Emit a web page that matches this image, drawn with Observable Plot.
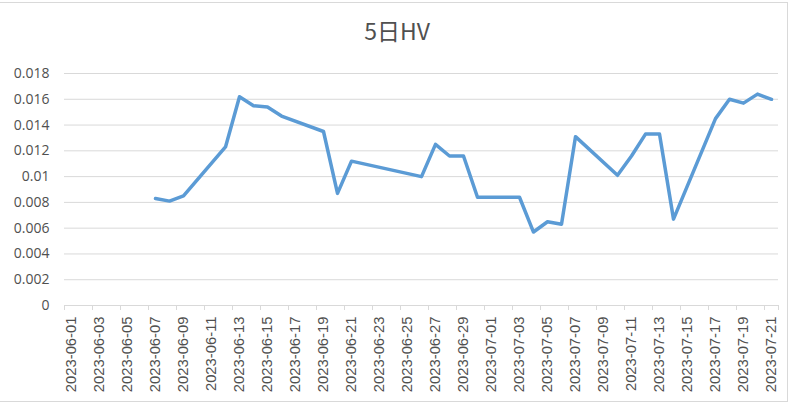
<!DOCTYPE html>
<html>
<head>
<meta charset="utf-8">
<script src="https://cdn.jsdelivr.net/npm/d3@7"></script>
<script src="https://cdn.jsdelivr.net/npm/@observablehq/plot@0.6"></script>
<style>
  html, body { margin: 0; padding: 0; background: #fff; }
  #wrap { position: relative; width: 800px; height: 408px; overflow: hidden; }
  #frame { position: absolute; left: -2px; top: 2px; width: 790px; height: 400px;
           border: 1px solid #d9d9d9; box-sizing: border-box; pointer-events: none; }
  #title { position: absolute; top: 19px; left: 0; width: 794px; text-align: center;
           font-family: "Noto Sans CJK SC", "Noto Sans", sans-serif; font-weight: 400;
           font-size: 23px; line-height: 23px; color: #505050; }
  #chart { position: absolute; left: 0; top: 0; }
</style>
</head>
<body>
<div id="wrap">
  <div id="chart"></div>
  <div id="frame"></div>
  <div id="title">5日HV</div>
</div>
<script>
const title = "5日HV";
const dates = [
  "2023-06-07","2023-06-08","2023-06-09","2023-06-12","2023-06-13","2023-06-14","2023-06-15","2023-06-16",
  "2023-06-19","2023-06-20","2023-06-21","2023-06-26","2023-06-27","2023-06-28","2023-06-29","2023-06-30",
  "2023-07-03","2023-07-04","2023-07-05","2023-07-06","2023-07-07","2023-07-10","2023-07-11","2023-07-12",
  "2023-07-13","2023-07-14","2023-07-17","2023-07-18","2023-07-19","2023-07-20","2023-07-21"
];
const hv = [
  0.0083, 0.0081, 0.0085, 0.0123, 0.0162, 0.0155, 0.0154, 0.0147,
  0.0135, 0.0087, 0.0112, 0.0100, 0.0125, 0.0116, 0.0116, 0.0084,
  0.0084, 0.0057, 0.0065, 0.0063, 0.0131, 0.0101, 0.0116, 0.0133,
  0.0133, 0.0067, 0.0145, 0.0160, 0.0157, 0.0164, 0.0160
];
const xTickLabels = [
  "2023-06-01","2023-06-03","2023-06-05","2023-06-07","2023-06-09","2023-06-11","2023-06-13",
  "2023-06-15","2023-06-17","2023-06-19","2023-06-21","2023-06-23","2023-06-25","2023-06-27",
  "2023-06-29","2023-07-01","2023-07-03","2023-07-05","2023-07-07","2023-07-09","2023-07-11",
  "2023-07-13","2023-07-15","2023-07-17","2023-07-19","2023-07-21"
];
const yTicks = [0, 0.002, 0.004, 0.006, 0.008, 0.01, 0.012, 0.014, 0.016, 0.018];
const yTickLabels = ["0","0.002","0.004","0.006","0.008","0.01","0.012","0.014","0.016","0.018"];

const parse = s => new Date(s + "T00:00:00Z");
const HALF = 12 * 3600 * 1000;
const data = dates.map((d, i) => ({date: parse(d), value: hv[i]}));
const labelDates = xTickLabels.map(parse);
const firstDay = parse("2023-06-01");
const lastDay = parse("2023-07-21");
const domainX = [new Date(+firstDay - HALF), new Date(+lastDay + HALF)];
const boundaryDates = labelDates.map(d => new Date(+d - HALF)).concat([domainX[1]]);

const chart = Plot.plot({
  width: 800,
  height: 408,
  marginLeft: 64,
  marginRight: 22,
  marginTop: 73,
  marginBottom: 103,
  style: {background: "transparent"},
  x: {type: "utc", domain: domainX},
  y: {domain: [0, 0.018]},
  marks: [
    Plot.gridY(yTicks, {stroke: "#d9d9d9", strokeOpacity: 1, strokeWidth: 1}),
    Plot.axisY(yTicks, {
      tickSize: 0, tickPadding: 15,
      tickFormat: v => yTickLabels[yTicks.indexOf(v)],
      fontSize: 14, fontFamily: "Open Sans, sans-serif", fill: "#505050", label: null
    }),
    Plot.axisX(boundaryDates, {
      tickSize: 5, stroke: "#d9d9d9", strokeOpacity: 1, tickFormat: () => "", label: null
    }),
    Plot.axisX(labelDates, {
      tickSize: 0, tickPadding: 11, tickRotate: -90,
      tickFormat: d => xTickLabels[labelDates.findIndex(e => +e === +d)],
      fontSize: 14.8, fontFamily: "Liberation Sans, Arial, sans-serif", fill: "#505050", label: null
    }),
    Plot.ruleY([0], {stroke: "#d9d9d9", strokeWidth: 1}),
    Plot.line(data, {
      x: "date", y: "value", stroke: "#5B9BD5", strokeWidth: 3.5,
      strokeLinejoin: "round", strokeLinecap: "round"
    })
  ]
});
document.getElementById("chart").appendChild(chart);
</script>
</body>
</html>
